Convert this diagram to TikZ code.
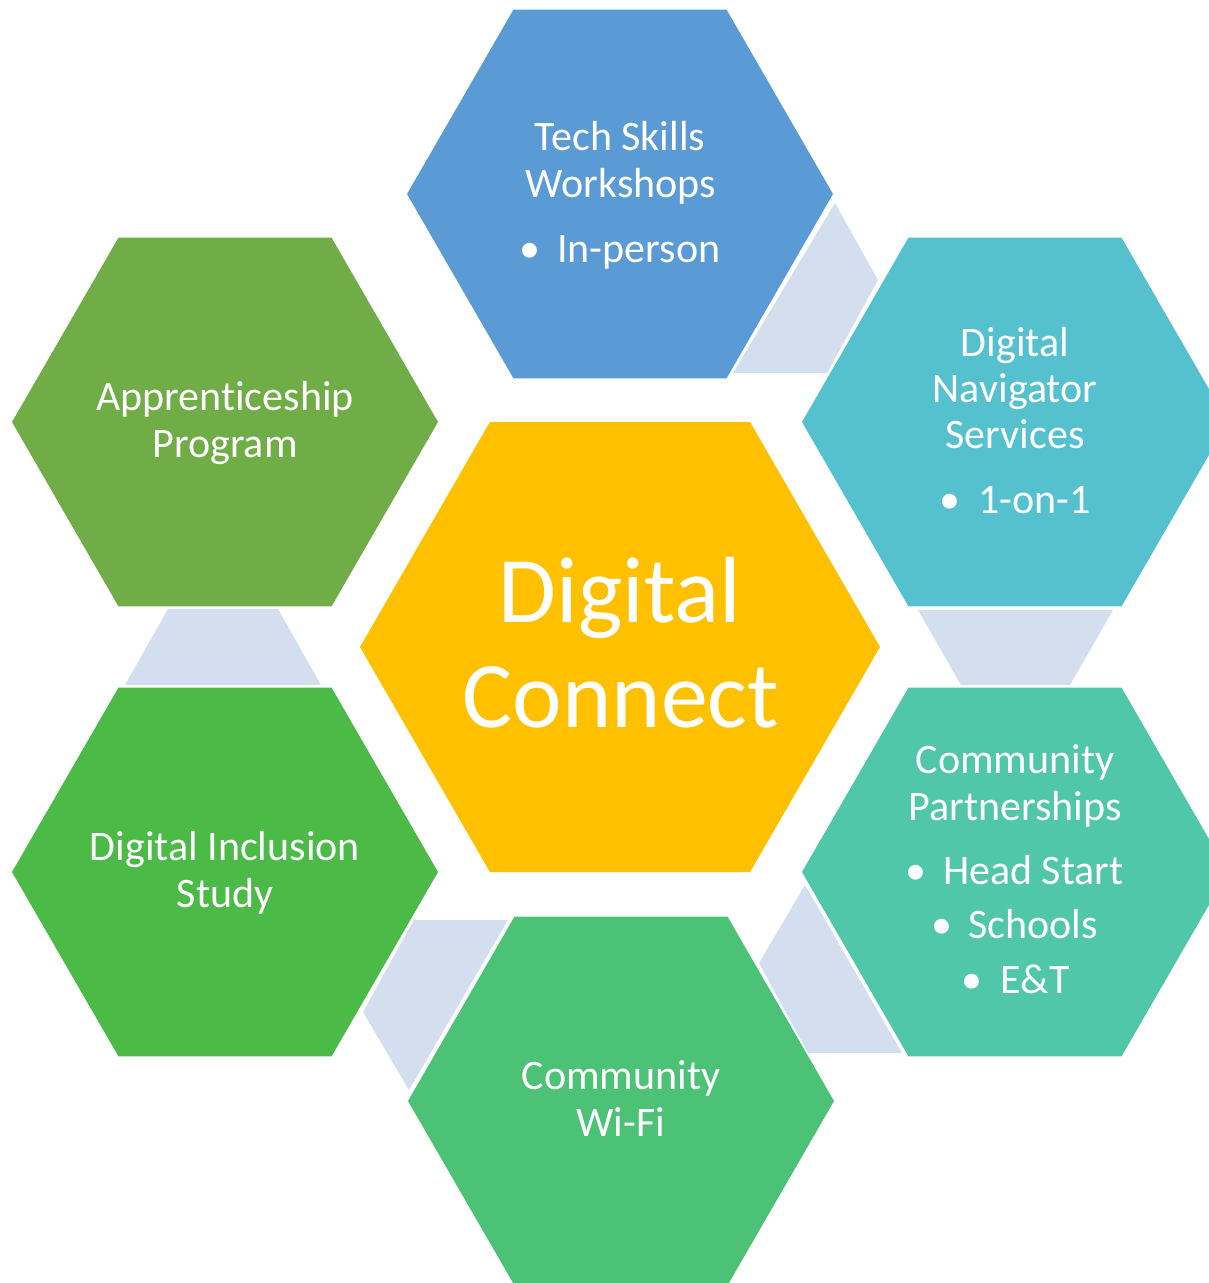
\documentclass[tikz,border=0pt]{standalone}
\usepackage{fontspec}
\setmainfont{Carlito}[Ligatures={NoCommon}]
\definecolor{cTop}{HTML}{5B9BD5}
\definecolor{cTR}{HTML}{55C1CF}
\definecolor{cBR}{HTML}{50C7A8}
\definecolor{cB}{HTML}{4CC277}
\definecolor{cBL}{HTML}{4BBA47}
\definecolor{cTL}{HTML}{70AD47}
\definecolor{cMid}{HTML}{FFC000}
\definecolor{cLink}{HTML}{D3DEEF}
\newcommand\myhex[4]{%
  \fill[#4] (#1+#3,#2) -- (#1+0.5*#3,#2+0.866*#3) -- (#1-0.5*#3,#2+0.866*#3)
    -- (#1-#3,#2) -- (#1-0.5*#3,#2-0.866*#3) -- (#1+0.5*#3,#2-0.866*#3) -- cycle;}
\tikzset{
  lbl/.style={text=white, inner sep=0pt, font=\fontsize{42}{47}\selectfont},
  big/.style={text=white, inner sep=0pt, font=\fontsize{94}{105}\selectfont},
  link/.style={fill=cLink}
}
\begin{document}
\begin{tikzpicture}[x=1pt,y=-1pt]
\useasboundingbox (0,0) rectangle (1209,1283);
\clip (0,0) rectangle (1209,1283);
% light links
\fill[link] (835,203) -- (878,280) -- (827,373) -- (733,373) -- cycle;
\fill[link] (918,610) -- (1113,610) -- (1070,685) -- (961,685) -- cycle;
\fill[link] (805,885) -- (759,963) -- (808,1053) -- (902,1053) -- cycle;
\fill[link] (414,920) -- (508,920) -- (409,1090) -- (363,1012) -- cycle;
\fill[link] (168,609) -- (278,609) -- (321,685) -- (125,685) -- cycle;
% hexagons
\myhex{620}{194}{213}{cTop}
\myhex{1015}{422}{213}{cTR}
\myhex{1015}{872}{213}{cBR}
\myhex{621}{1101}{213}{cB}
\myhex{225}{872}{213}{cBL}
\myhex{225}{422}{213}{cTL}
\myhex{620}{647}{260}{cMid}
% centre
\node[big,anchor=base] (mid1) at (620,622) {Digital};
\node[big,anchor=base] (mid2) at (621,727) {Connect};
% top
\node[lbl,anchor=base] (top1) at (620,150) {Tech Skills};
\node[lbl,anchor=base] (top2) at (621,197) {Workshops};
\node[lbl,anchor=base] (topb) at (530,262) {•};
\node[lbl,anchor=base west] (top3) at (557,262) {In-person};
% top right
\node[lbl,anchor=base] (tr1) at (1015,356) {Digital};
\node[lbl,anchor=base] (tr2) at (1015,402) {Navigator};
\node[lbl,anchor=base] (tr3) at (1015,448) {Services};
\node[lbl,anchor=base] (trb) at (950,513) {•};
\node[lbl,anchor=base west] (tr4) at (978,513) {1-on-1};
% bottom right
\node[lbl,anchor=base] (br1) at (1015,773) {Community};
\node[lbl,anchor=base] (br2) at (1015,820) {Partnerships};
\node[lbl,anchor=base] (brb1) at (916,884) {•};
\node[lbl,anchor=base west] (br3) at (943,884) {Head Start};
\node[lbl,anchor=base] (brb2) at (942,938) {•};
\node[lbl,anchor=base west] (br4) at (968,938) {Schools};
\node[lbl,anchor=base] (brb3) at (972,993) {•};
\node[lbl,anchor=base west] (br5) at (1000,993) {E\&T};
% bottom
\node[lbl,anchor=base] (b1) at (621,1089) {Community};
\node[lbl,anchor=base] (b2) at (621,1136) {Wi-Fi};
% bottom left
\node[lbl,anchor=base] (bl1) at (225,860) {Digital Inclusion};
\node[lbl,anchor=base] (bl2) at (225,907) {Study};
% top left
\node[lbl,anchor=base] (tl1) at (225,410) {Apprenticeship};
\node[lbl,anchor=base] (tl2) at (225,457) {Program};
\end{tikzpicture}
\end{document}
